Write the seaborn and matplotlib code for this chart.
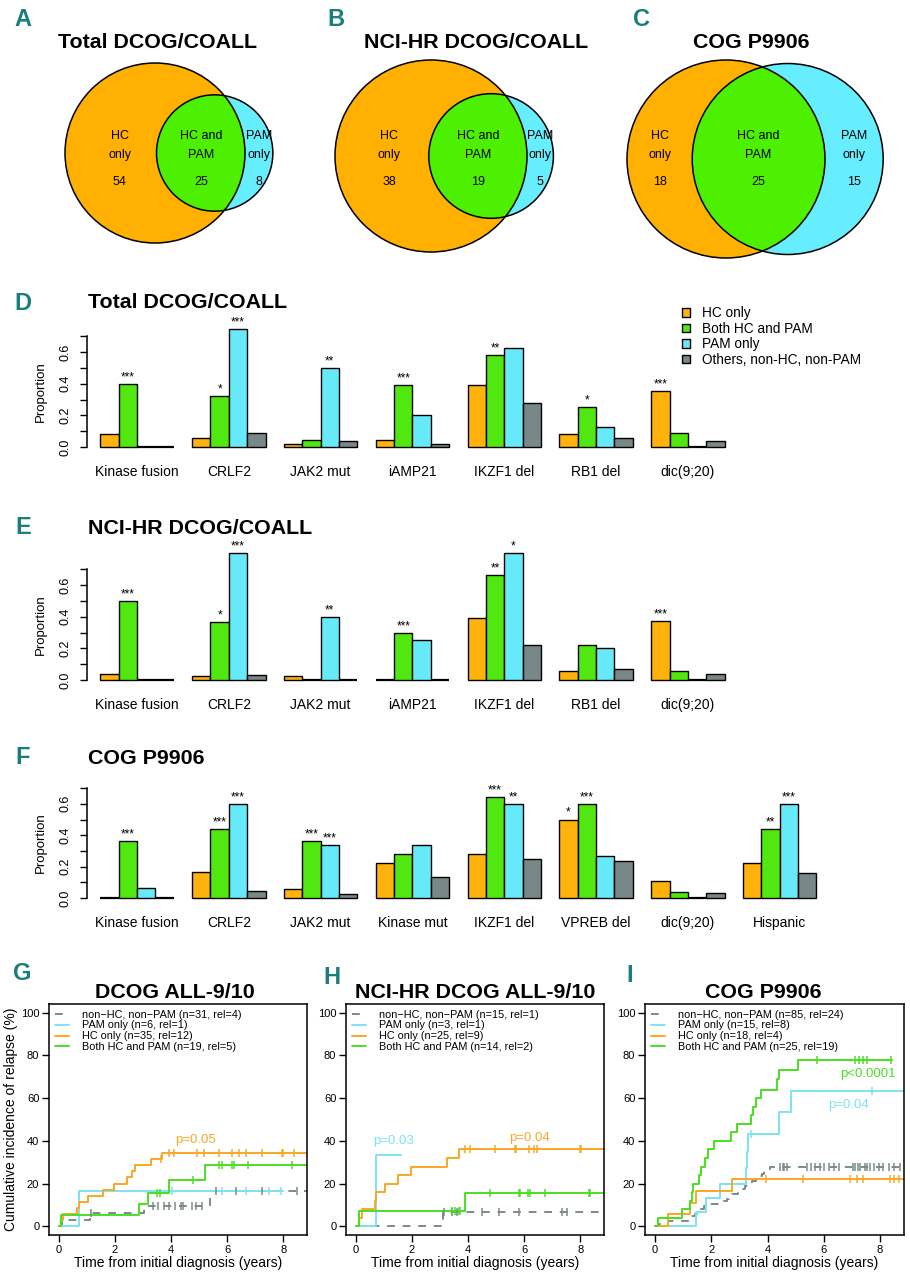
import numpy as np
import pandas as pd
import matplotlib
matplotlib.use("Agg")
import matplotlib.pyplot as plt
import matplotlib.transforms as mtransforms
from matplotlib.patches import Circle, Patch
from matplotlib.lines import Line2D
import seaborn as sns

# ---------------- data ----------------
venn_titles = ["Total DCOG/COALL", "NCI-HR DCOG/COALL", "COG P9906"]
venn_hc_only = [54, 38, 18]
venn_both = [25, 19, 25]
venn_pam_only = [8, 5, 15]

group_names = ["HC only", "Both HC and PAM", "PAM only", "Others, non-HC, non-PAM"]

d_features = ["Kinase fusion", "CRLF2", "JAK2 mut", "iAMP21", "IKZF1 del", "RB1 del", "dic(9;20)"]
d_hc = [0.08, 0.055, 0.02, 0.044, 0.394, 0.08, 0.356]
d_both = [0.40, 0.32, 0.046, 0.39, 0.583, 0.25, 0.088]
d_pam = [0.0, 0.747, 0.50, 0.20, 0.623, 0.126, 0.0]
d_oth = [0.0, 0.086, 0.038, 0.021, 0.278, 0.055, 0.038]
d_star_hc = ["", "", "", "", "", "", "***"]
d_star_both = ["***", "*", "", "***", "**", "*", ""]
d_star_pam = ["", "***", "**", "", "", "", ""]

e_features = ["Kinase fusion", "CRLF2", "JAK2 mut", "iAMP21", "IKZF1 del", "RB1 del", "dic(9;20)"]
e_hc = [0.038, 0.023, 0.023, 0.0, 0.39, 0.055, 0.374]
e_both = [0.50, 0.368, 0.0, 0.294, 0.666, 0.224, 0.059]
e_pam = [0.0, 0.80, 0.40, 0.25, 0.80, 0.20, 0.0]
e_oth = [0.0, 0.032, 0.0, 0.0, 0.224, 0.072, 0.04]
e_star_hc = ["", "", "", "", "", "", "***"]
e_star_both = ["***", "*", "", "***", "**", "", ""]
e_star_pam = ["", "***", "**", "", "*", "", ""]

f_features = ["Kinase fusion", "CRLF2", "JAK2 mut", "Kinase mut", "IKZF1 del", "VPREB del", "dic(9;20)", "Hispanic"]
f_hc = [0.0, 0.167, 0.055, 0.222, 0.28, 0.50, 0.11, 0.222]
f_both = [0.36, 0.44, 0.36, 0.28, 0.642, 0.60, 0.038, 0.44]
f_pam = [0.064, 0.60, 0.335, 0.337, 0.60, 0.27, 0.0, 0.60]
f_oth = [0.0, 0.047, 0.025, 0.131, 0.248, 0.237, 0.034, 0.157]
f_star_hc = ["", "", "", "", "", "*", "", ""]
f_star_both = ["***", "***", "***", "", "***", "***", "", "**"]
f_star_pam = ["", "***", "***", "", "**", "", "", "***"]

yticks_bar = [0.0, 0.1, 0.2, 0.3, 0.4, 0.5, 0.6, 0.7]
ytick_labels_bar = ["0.0", "", "0.2", "", "0.4", "", "0.6", ""]

# Cumulative incidence curves: event times (years), cumulative % after each event,
# end of follow-up and censoring times
g_labels = ["non\u2212HC, non\u2212PAM (n=31, rel=4)", "PAM only (n=6, rel=1)",
            "HC only (n=35, rel=12)", "Both HC and PAM (n=19, rel=5)"]
g_gray_t = [0.1, 1.1, 3.05, 5.4]
g_gray_y = [3.2, 6.5, 9.7, 16.4]
g_gray_end = 9.0
g_gray_c = [1.15, 3.34, 3.55, 3.75, 3.93, 4.15, 4.35, 4.44, 4.76, 4.88, 5.12, 5.6, 6.3, 7.25, 8.5]
g_blue_t = [0.7]
g_blue_y = [16.7]
g_blue_end = 8.0
g_blue_c = [4.05, 5.8, 6.66, 7.5, 7.94]
g_orange_t = [0.08, 0.14, 0.64, 0.71, 1.03, 1.56, 1.98, 2.43, 2.6, 2.72, 3.28, 3.66]
g_orange_y = [2.9, 5.7, 8.6, 11.4, 14.3, 17.1, 20.0, 22.9, 25.7, 28.6, 31.4, 34.3]
g_orange_end = 9.0
g_orange_c = [3.64, 3.93, 4.11, 4.94, 5.18, 5.71, 6.18, 6.42, 6.66, 7.25, 7.96, 8.0, 8.38]
g_green_t = [0.09, 2.87, 3.17, 3.92, 5.22]
g_green_y = [5.3, 10.5, 15.8, 21.9, 28.9]
g_green_end = 9.0
g_green_c = [3.5, 3.62, 4.8, 5.72, 5.8, 6.17, 6.25, 6.75, 8.3]
g_pvals = [("p=0.05", 4.88, 40.3, "orange")]

h_labels = ["non\u2212HC, non\u2212PAM (n=15, rel=1)", "PAM only (n=3, rel=1)",
            "HC only (n=25, rel=9)", "Both HC and PAM (n=14, rel=2)"]
h_gray_t = [3.1]
h_gray_y = [6.7]
h_gray_end = 9.0
h_gray_c = [3.13, 3.42, 3.6, 4.49, 5.09, 5.8, 7.35, 7.53]
h_blue_t = [0.7]
h_blue_y = [33.3]
h_blue_end = 1.6
h_blue_c = []
h_orange_t = [0.1, 0.2, 0.68, 0.72, 1.05, 1.5, 1.98, 3.25, 3.68]
h_orange_y = [4, 8, 12, 16, 20, 24, 28, 32, 36]
h_orange_end = 9.0
h_orange_c = [3.9, 4.08, 4.97, 5.68, 5.7, 6.19, 6.34, 6.45, 7.98, 8.03]
h_green_t = [0.1, 3.9]
h_green_y = [7.1, 15.8]
h_green_end = 9.0
h_green_c = [3.42, 3.54, 3.66, 3.72, 4.79, 5.8, 5.86, 6.15, 6.21, 6.75, 8.33, 8.36]
h_pvals = [("p=0.03", 1.34, 39.8, "blue"), ("p=0.04", 6.2, 41.4, "orange")]

i_labels = ["non\u2212HC, non\u2212PAM (n=85, rel=24)", "PAM only (n=15, rel=8)",
            "HC only (n=18, rel=4)", "Both HC and PAM (n=25, rel=19)"]
i_gray_t = [0.15, 0.45, 1.2, 1.25, 1.42, 1.48, 1.55, 1.75, 1.95, 2.45, 2.55, 2.63, 2.75,
            2.95, 3.05, 3.2, 3.3, 3.45, 3.6, 3.72, 3.8, 3.88, 3.97, 4.1]
i_gray_y = [1.2, 2.4, 3.5, 4.7, 5.9, 7.1, 8.3, 9.4, 10.6, 11.8, 12.9, 14.1, 15.3,
            16.5, 17.6, 18.8, 20.0, 21.2, 22.4, 23.5, 24.7, 25.9, 27.0, 27.6]
i_gray_end = 9.0
i_gray_c = [4.45, 4.55, 4.6, 4.68, 5.4, 5.55, 5.7, 5.85, 6.0, 6.2, 6.35, 6.55, 7.05, 7.12,
            7.2, 7.3, 7.45, 7.55, 7.65, 7.8, 7.95, 8.1, 8.3, 8.5, 8.7]
i_blue_t = [1.45, 1.8, 2.3, 3.25, 3.28, 3.32, 4.4, 4.85]
i_blue_y = [6.7, 13.3, 20.0, 27.5, 35.0, 43.1, 53.3, 63.3]
i_blue_end = 9.0
i_blue_c = [3.42, 7.72]
i_orange_t = [0.45, 1.25, 1.45, 2.75]
i_orange_y = [5.6, 11.1, 16.7, 22.2]
i_orange_end = 9.0
i_orange_c = [3.93, 5.27, 6.93, 7.17, 7.41, 8.36, 8.48, 8.66]
i_green_t = [0.12, 0.95, 1.25, 1.3, 1.35, 1.55, 1.65, 1.77, 1.9, 2.1, 2.7, 2.9, 3.4,
             3.47, 3.6, 3.75, 4.35, 4.4, 5.1]
i_green_y = [4, 8, 12, 16, 20, 24, 28, 32, 36, 40, 44, 48, 52, 56, 60, 64, 68.9, 73.3, 77.7]
i_green_end = 8.42
i_green_c = [5.75, 7.1, 7.25, 7.4, 7.55, 8.4]
i_pvals = [("p<0.0001", 7.58, 71.4, "green"), ("p=0.04", 6.87, 57.0, "blue")]

km_xticks = [0, 2, 4, 6, 8]
km_yticks = [0, 20, 40, 60, 80, 100]

# ---------------- style ----------------
sns.set_style("ticks")
plt.rcParams["font.family"] = ["Liberation Sans", "DejaVu Sans"]
plt.rcParams.update({"text.color": "black", "axes.edgecolor": "black",
                     "xtick.color": "black", "ytick.color": "black",
                     "axes.labelcolor": "black"})

VENN_COL = {"hc": "#FFB000", "both": "#4CF000", "pam": "#66EEFF"}
BAR_COLS = ["#FFB20C", "#50E810", "#66EAFA", "#788787"]
KM_COL = {"gray": "#7C8A8A", "blue": "#7EE2F2", "orange": "#F9A825", "green": "#4ADF22"}
TEAL = "#1A7F7C"

W, H = 910, 1280
fig = plt.figure(figsize=(W / 100, H / 100), dpi=100)


def add_ax(l, t, r, b):
    return fig.add_axes([l / W, 1 - b / H, (r - l) / W, (b - t) / H])


def ftext(x, y, s, **kw):
    fig.text(x / W, 1 - y / H, s, **kw)


def letter(x, y, s):
    ftext(x, y, s, fontsize=17, fontweight="bold", color=TEAL, ha="center", va="center",
          family=["Liberation Sans Narrow", "Liberation Sans"], fontstretch="condensed")


TITLE_KW = dict(fontsize=15.4, fontweight="bold", va="center")

# ---------------- Venn diagrams ----------------
def lens_area(r1, r2, d):
    if d >= r1 + r2:
        return 0.0
    if d <= abs(r1 - r2):
        return np.pi * min(r1, r2) ** 2
    a1 = r1 ** 2 * np.arccos((d * d + r1 * r1 - r2 * r2) / (2 * d * r1))
    a2 = r2 ** 2 * np.arccos((d * d + r2 * r2 - r1 * r1) / (2 * d * r2))
    a3 = 0.5 * np.sqrt((-d + r1 + r2) * (d + r1 - r2) * (d - r1 + r2) * (d + r1 + r2))
    return a1 + a2 - a3


def venn(left, top, bottom, hc_only, both, pam_only, label_fac):
    r1 = np.sqrt((hc_only + both) / np.pi)
    r2 = np.sqrt((pam_only + both) / np.pi)
    lo, hi = abs(r1 - r2) + 1e-9, r1 + r2
    for _ in range(80):
        mid = 0.5 * (lo + hi)
        if lens_area(r1, r2, mid) > both:
            lo = mid
        else:
            hi = mid
    d = 0.5 * (lo + hi)
    R = max(r1, r2)
    x0, x1 = -r1, max(r1, d + r2)
    hpx = bottom - top
    wpx = (x1 - x0) / (2 * R) * hpx
    ax = add_ax(left, top, left + wpx, bottom)
    ax.set_xlim(x0, x1)
    ax.set_ylim(-R, R)
    ax.axis("off")
    c1 = Circle((0, 0), r1, fc=VENN_COL["hc"], ec="none", clip_on=False)
    ax.add_patch(c1)
    ax.add_patch(Circle((d, 0), r2, fc=VENN_COL["pam"], ec="none", clip_on=False))
    c3 = Circle((d, 0), r2, fc=VENN_COL["both"], ec="none")
    ax.add_patch(c3)
    c3.set_clip_path(c1)
    ax.add_patch(Circle((0, 0), r1, fill=False, ec="black", lw=1.1, clip_on=False))
    ax.add_patch(Circle((d, 0), r2, fill=False, ec="black", lw=1.1, clip_on=False))
    tr = mtransforms.blended_transform_factory(ax.transData, fig.transFigure)
    pam_left, hc_right, pam_right = d - r2, r1, d + r2
    xs = [x0 + label_fac * (pam_left - x0), 0.5 * (pam_left + hc_right), 0.5 * (hc_right + pam_right)]
    lines = [("HC", "only", str(hc_only)), ("HC and", "PAM", str(both)), ("PAM", "only", str(pam_only))]
    for xx, (a, b, c) in zip(xs, lines):
        for yy, s in zip([136, 155, 182], [a, b, c]):
            ax.text(xx, 1 - yy / H, s, transform=tr, ha="center", va="center", fontsize=9)
    return ax


venn(65, 63, 243, venn_hc_only[0], venn_both[0], venn_pam_only[0], 0.6)
venn(335, 60, 252, venn_hc_only[1], venn_both[1], venn_pam_only[1], 0.58)
venn(627, 60, 258, venn_hc_only[2], venn_both[2], venn_pam_only[2], 0.5)
letter(23, 20, "A")
letter(336, 20, "B")
letter(642, 20, "C")
ftext(158, 43, venn_titles[0], ha="center", **TITLE_KW)
ftext(476, 43, venn_titles[1], ha="center", **TITLE_KW)
ftext(751, 43, venn_titles[2], ha="center", **TITLE_KW)

# ---------------- bar charts ----------------
def bar_panel(base, scale, features, vals, stars, let, title, title_y):
    ax = add_ax(87, base - 0.8 * scale, 900, base)
    rows = []
    for g, v in zip(group_names, vals):
        for f, val in zip(features, v):
            rows.append({"feature": f, "group": g, "value": val})
    df = pd.DataFrame(rows)
    sns.barplot(data=df, x="feature", y="value", hue="group", order=features,
                hue_order=group_names, palette=BAR_COLS, saturation=1,
                edgecolor="black", linewidth=1.0, width=0.8, errorbar=None,
                legend=False, ax=ax)
    for p in ax.patches:
        p.set_clip_on(False)
        if p.get_height() == 0:
            p.set_linewidth(1.6)
    ax.set_xlim(-0.545, 8.31)
    ax.set_ylim(0, 0.8)
    for s in ["top", "right", "bottom"]:
        ax.spines[s].set_visible(False)
    ax.spines["left"].set_bounds(0, 0.7)
    ax.spines["left"].set_linewidth(1.1)
    ax.set_yticks(yticks_bar)
    ax.set_yticklabels(ytick_labels_bar, rotation=90, va="center", fontsize=9)
    ax.tick_params(axis="y", length=5, width=1.0, pad=6)
    ax.tick_params(axis="x", length=0, pad=13, labelsize=10)
    ax.set_xlabel("")
    ax.set_ylabel("Proportion", fontsize=9.5)
    ax.yaxis.set_label_coords((47 - 87) / 813, 0.35 / 0.8)
    for j, st in enumerate(stars):
        for i, s in enumerate(st):
            if s:
                ax.text(i + (j - 1.5) * 0.2, vals[j][i] + 0.004, s, ha="center",
                        va="bottom", fontsize=8.5, clip_on=False)
    letter(23, title_y, let)
    ftext(88, title_y, title, ha="left", **TITLE_KW)
    return ax


axD = bar_panel(447, 158.3, d_features, [d_hc, d_both, d_pam, d_oth],
                [d_star_hc, d_star_both, d_star_pam], "D", "Total DCOG/COALL", 303)
bar_panel(680, 158.3, e_features, [e_hc, e_both, e_pam, e_oth],
          [e_star_hc, e_star_both, e_star_pam], "E", "NCI-HR DCOG/COALL", 528)
bar_panel(898, 157.0, f_features, [f_hc, f_both, f_pam, f_oth],
          [f_star_hc, f_star_both, f_star_pam], "F", "COG P9906", 758)

handles = [Patch(facecolor=c, edgecolor="black", linewidth=1.0) for c in BAR_COLS]
axD.legend(handles, group_names, loc="upper left", bbox_to_anchor=(682 / W, 1 - 306 / H),
           bbox_transform=fig.transFigure, frameon=False, fontsize=9.8,
           handlelength=0.6, handleheight=0.6, handletextpad=0.9, labelspacing=0.12,
           borderpad=0, borderaxespad=0)

# ---------------- cumulative incidence ----------------
def step_at(t_ev, y_ev, t):
    idx = np.searchsorted(np.asarray(t_ev), t, side="right") - 1
    return y_ev[idx] if idx >= 0 else 0.0


def km_panel(left, right, curves, labels, pvals, let, let_xy, title, title_x, ylab):
    ax = add_ax(left, 1004, right, 1235)
    ax.set_xlim(-0.356, 8.85)
    ax.set_ylim(-4, 104)
    for key, (t_ev, y_ev, t_end, cens) in zip(["gray", "blue", "orange", "green"], curves):
        xs = [0.0] + list(t_ev) + [t_end]
        ys = [0.0] + list(y_ev) + [y_ev[-1]]
        ls = (0, (4, 4)) if key == "gray" else "-"
        sns.lineplot(x=xs, y=ys, drawstyle="steps-post", estimator=None, sort=False,
                     color=KM_COL[key], linewidth=1.4, linestyle=ls, ax=ax)
        if len(cens):
            cy = [step_at(t_ev, y_ev, c) for c in cens]
            sns.scatterplot(x=cens, y=cy, marker="|", s=30, linewidth=1.1,
                            color=KM_COL[key], ax=ax, zorder=3)
    for s in ax.spines.values():
        s.set_linewidth(1.1)
    ax.set_xticks(km_xticks)
    ax.set_yticks(km_yticks)
    ax.tick_params(length=5, width=1.0, labelsize=8, pad=2)
    ax.set_xlabel("Time from initial diagnosis (years)", fontsize=10, labelpad=1)
    if ylab:
        ax.set_ylabel("Cumulative incidence of relapse (%)", fontsize=10, labelpad=2)
    hnd = [Line2D([], [], color=KM_COL["gray"], lw=1.4, linestyle=(0, (4, 4))),
           Line2D([], [], color=KM_COL["blue"], lw=1.4),
           Line2D([], [], color=KM_COL["orange"], lw=1.4),
           Line2D([], [], color=KM_COL["green"], lw=1.4)]
    ax.legend(hnd, labels, loc="upper left", bbox_to_anchor=(0.015, 0.985), frameon=False,
              fontsize=7.8, handlelength=1.3, handletextpad=1.2, labelspacing=0.08,
              borderpad=0.2, borderaxespad=0)
    for s, x, y, c in pvals:
        ax.text(x, y, s, color=KM_COL[c], fontsize=9.5, ha="center", va="center")
    letter(let_xy[0], let_xy[1], let)
    ftext(title_x, 992, title, ha="center", **TITLE_KW)
    return ax


km_panel(49, 307,
         [(g_gray_t, g_gray_y, g_gray_end, g_gray_c), (g_blue_t, g_blue_y, g_blue_end, g_blue_c),
          (g_orange_t, g_orange_y, g_orange_end, g_orange_c), (g_green_t, g_green_y, g_green_end, g_green_c)],
         g_labels, g_pvals, "G", (22, 973), "DCOG ALL-9/10", 175, True)
km_panel(346, 604,
         [(h_gray_t, h_gray_y, h_gray_end, h_gray_c), (h_blue_t, h_blue_y, h_blue_end, h_blue_c),
          (h_orange_t, h_orange_y, h_orange_end, h_orange_c), (h_green_t, h_green_y, h_green_end, h_green_c)],
         h_labels, h_pvals, "H", (332, 977), "NCI-HR DCOG ALL-9/10", 475, False)
km_panel(645, 904,
         [(i_gray_t, i_gray_y, i_gray_end, i_gray_c), (i_blue_t, i_blue_y, i_blue_end, i_blue_c),
          (i_orange_t, i_orange_y, i_orange_end, i_orange_c), (i_green_t, i_green_y, i_green_end, i_green_c)],
         i_labels, i_pvals, "I", (630, 975), "COG P9906", 763, False)

fig.savefig("out.png", dpi=100, facecolor="white")
